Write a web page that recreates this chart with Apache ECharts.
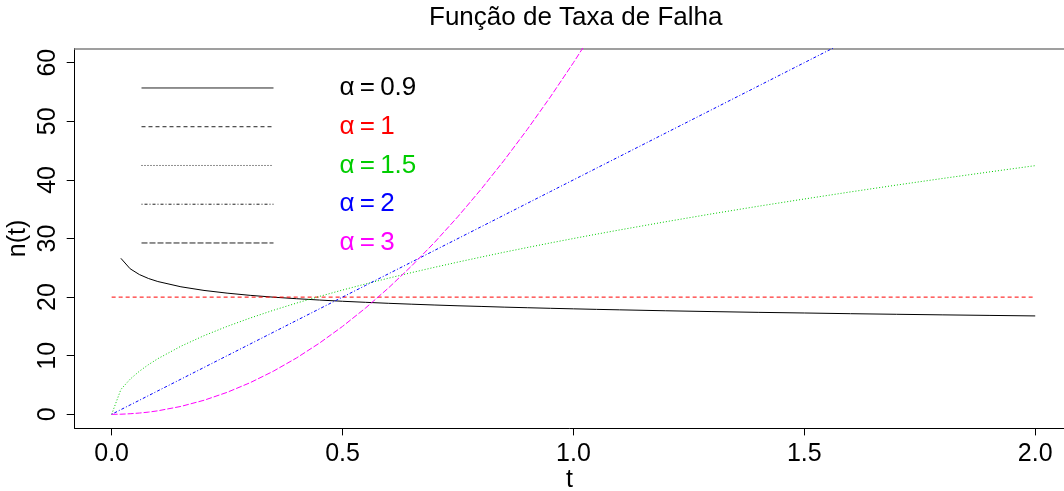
<!DOCTYPE html>
<html>
<head>
<meta charset="utf-8">
<title>Função de Taxa de Falha</title>
<script src="https://cdn.jsdelivr.net/npm/echarts@6/dist/echarts.min.js"></script>
<style>
  html, body { margin: 0; padding: 0; background: #fff; }
  #chart { width: 1064px; height: 491px; }
</style>
</head>
<body>
<div id="chart"></div>
<script>
// Sample times (t) shared by every hazard curve
var tValues = [0, 0.02, 0.04, 0.06, 0.08, 0.1, 0.15, 0.2, 0.25, 0.3, 0.35, 0.4, 0.45,
  0.5, 0.55, 0.6, 0.65, 0.7, 0.75, 0.8, 0.85, 0.9, 0.95, 1.0, 1.05, 1.1,
  1.2, 1.3, 1.4, 1.5, 1.6, 1.7, 1.8, 1.9, 2.0];

// Hazard n(t) for each shape parameter alpha
var hAlpha09 = [null, 26.62, 24.84, 23.85, 23.17, 22.66, 21.76, 21.14, 20.68, 20.30, 19.99, 19.73, 19.50,
  19.29, 19.11, 18.94, 18.79, 18.65, 18.52, 18.41, 18.29, 18.19, 18.09, 18.00, 17.91, 17.83,
  17.67, 17.53, 17.40, 17.29, 17.17, 17.07, 16.97, 16.88, 16.79];
var hAlpha1 = [20, 20, 20, 20, 20, 20, 20, 20, 20, 20, 20, 20, 20,
  20, 20, 20, 20, 20, 20, 20, 20, 20, 20, 20, 20, 20,
  20, 20, 20, 20, 20, 20, 20, 20, 20];
var hAlpha15 = [0, 4.24, 6.00, 7.35, 8.49, 9.49, 11.62, 13.42, 15.00, 16.43, 17.75, 18.97, 20.12,
  21.21, 22.25, 23.24, 24.19, 25.10, 25.98, 26.83, 27.66, 28.46, 29.24, 30.00, 30.74, 31.46,
  32.86, 34.21, 35.50, 36.74, 37.95, 39.12, 40.25, 41.35, 42.43];
var hAlpha2 = [0, 0.8, 1.6, 2.4, 3.2, 4, 6, 8, 10, 12, 14, 16, 18,
  20, 22, 24, 26, 28, 30, 32, 34, 36, 38, 40, 42, 44,
  48, 52, 56, 60, 64, 68, 72, 76, 80];
var hAlpha3 = [0, 0.02, 0.1, 0.22, 0.38, 0.6, 1.35, 2.4, 3.75, 5.4, 7.35, 9.6, 12.15,
  15, 18.15, 21.6, 25.35, 29.4, 33.75, 38.4, 43.35, 48.6, 54.15, 60, 66.15, 72.6,
  86.4, 101.4, 117.6, 135, 153.6, 173.4, 194.4, 216.6, 240];

// Axis ticks
var xTicks = [0, 0.5, 1.0, 1.5, 2.0];
var yTicks = [0, 10, 20, 30, 40, 50, 60];

var seriesNames = ['α\u2009=\u20090.9', 'α\u2009=\u20091', 'α\u2009=\u20091.5', 'α\u2009=\u20092', 'α\u2009=\u20093'];
var seriesValues = [hAlpha09, hAlpha1, hAlpha15, hAlpha2, hAlpha3];
var seriesColors = ['#000000', '#FF0000', '#00CD00', '#0000FF', '#FF00FF'];
var seriesDash = ['solid', [4, 3], [1, 2], [1, 2, 3, 2], [6, 2]];

function pairs(vals) {
  return tValues.map(function (t, i) { return [t, vals[i]]; });
}

var FONT = '"Liberation Sans", Arial, Helvetica, sans-serif';

var chart = echarts.init(document.getElementById('chart'), null, { renderer: 'canvas' });

var option = {
  animation: false,
  backgroundColor: '#ffffff',
  title: {
    text: 'Função de Taxa de Falha',
    left: 429,
    top: 0,
    padding: [5, 0, 0, 0],
    textStyle: { fontFamily: FONT, fontSize: 26, fontWeight: 'normal', color: '#000' }
  },
  grid: { left: 74.7, right: 0, top: 48.6, bottom: 62.6, containLabel: false, outerBoundsMode: 'none' },
  legend: {
    orient: 'vertical',
    left: 141,
    top: 68.6,
    padding: 0,
    itemWidth: 132,
    itemHeight: 14,
    itemGap: 0,
    selectedMode: false,
    textStyle: { fontFamily: FONT, fontSize: 26, lineHeight: 38.75, padding: [0, 0, 0, 61] },
    data: seriesNames.map(function (n, i) {
      return {
        name: n,
        textStyle: { color: seriesColors[i] },
        itemStyle: { color: 'rgba(0,0,0,0)', borderWidth: 0, opacity: 0 },
        lineStyle: { color: '#222', width: 1, type: seriesDash[i] }
      };
    })
  },
  xAxis: [{
    type: 'value',
    min: -0.08,
    max: 2.0623,
    name: 't',
    nameLocation: 'middle',
    nameGap: 39,
    nameMoveOverlap: false,
    nameTextStyle: { fontFamily: FONT, fontSize: 25, color: '#000' },
    axisLine: { show: true, onZero: false, lineStyle: { color: '#000', width: 1 } },
    axisTick: { show: true, inside: false, length: 7, lineStyle: { color: '#000' }, customValues: xTicks },
    axisLabel: {
      show: true, margin: 13, fontFamily: FONT, fontSize: 25, color: '#000',
      customValues: xTicks,
      formatter: function (v) { return v.toFixed(1); }
    },
    splitLine: { show: false }
  }, {
    type: 'value',
    position: 'top',
    min: -0.08,
    max: 2.0623,
    axisLine: { show: true, onZero: false, lineStyle: { color: '#808080', width: 1.5 } },
    axisTick: { show: false },
    axisLabel: { show: false },
    splitLine: { show: false }
  }],
  yAxis: {
    type: 'value',
    min: -2.4,
    max: 62.4,
    name: 'n(t)',
    nameLocation: 'middle',
    nameGap: 44,
    nameMoveOverlap: false,
    nameRotate: 90,
    nameTextStyle: { fontFamily: FONT, fontSize: 25, color: '#000' },
    axisLine: { show: true, onZero: false, lineStyle: { color: '#000', width: 1 } },
    axisTick: { show: true, inside: false, length: 8, lineStyle: { color: '#000' }, customValues: yTicks },
    axisLabel: {
      show: true, rotate: 90, margin: 14, fontFamily: FONT, fontSize: 25, color: '#000',
      customValues: yTicks
    },
    splitLine: { show: false }
  },
  series: seriesNames.map(function (n, i) {
    return {
      name: n,
      type: 'line',
      xAxisIndex: 0,
      data: pairs(seriesValues[i]),
      symbol: 'none',
      showSymbol: false,
      connectNulls: false,
      clip: true,
      lineStyle: { color: seriesColors[i], width: 1, type: seriesDash[i] },
      itemStyle: { color: seriesColors[i] },
      emphasis: { disabled: true }
    };
  })
};

chart.setOption(option);
</script>
</body>
</html>
